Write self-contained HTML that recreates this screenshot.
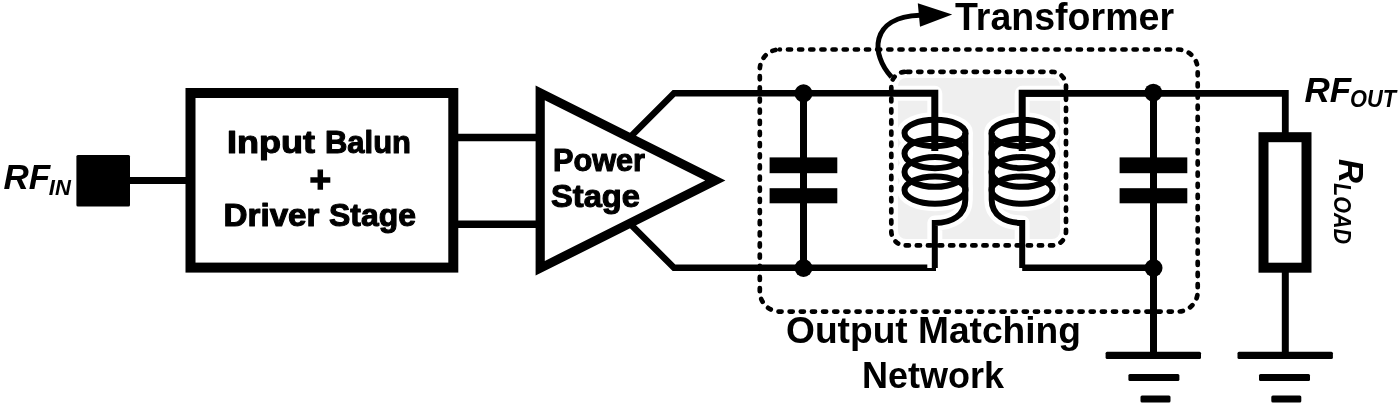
<!DOCTYPE html>
<html><head><meta charset="utf-8">
<style>
html,body{margin:0;padding:0;background:#fff;width:1400px;height:405px;overflow:hidden}
svg{display:block;will-change:transform}
#wrap{}
text{font-family:"Liberation Sans",sans-serif;font-weight:bold;fill:#000}
</style></head><body><div id="wrap">
<svg width="1400" height="405" viewBox="0 0 1400 405">
<!-- gray transformer background -->
<rect x="898" y="78" width="162" height="161" rx="8" fill="#efefef"/>

<!-- RF IN -->
<text x="3.5" y="188.6" font-size="35" font-style="italic">RF</text>
<text x="48.8" y="194.6" font-size="22" font-style="italic">IN</text>
<rect x="76.4" y="154.9" width="53.6" height="51.5" rx="1.5" fill="#000"/>
<line x1="128" y1="180.5" x2="192" y2="180.5" stroke="#000" stroke-width="6.9"/>

<!-- Input balun box -->
<rect x="190.5" y="93" width="262.8" height="174.6" fill="none" stroke="#000" stroke-width="10"/>
<text stroke="#000" stroke-width="1.1" stroke-linejoin="round" x="227" y="152.7" font-size="32" textLength="88" lengthAdjust="spacingAndGlyphs">Input</text>
<text stroke="#000" stroke-width="1.1" stroke-linejoin="round" x="325" y="152.7" font-size="32" textLength="86" lengthAdjust="spacingAndGlyphs">Balun</text>
<text x="309.5" y="191.5" font-size="37" stroke="#000" stroke-width="1.4">+</text>
<text stroke="#000" stroke-width="1.1" stroke-linejoin="round" x="223.5" y="225.8" font-size="32" textLength="96" lengthAdjust="spacingAndGlyphs">Driver</text>
<text stroke="#000" stroke-width="1.1" stroke-linejoin="round" x="329" y="225.8" font-size="32" textLength="87" lengthAdjust="spacingAndGlyphs">Stage</text>

<!-- wires to PA -->
<line x1="455" y1="137.5" x2="540" y2="137.5" stroke="#000" stroke-width="7.5"/>
<line x1="455" y1="224.3" x2="540" y2="224.3" stroke="#000" stroke-width="7.5"/>

<!-- PA triangle -->
<path d="M535.6 85.5 L725.4 180.55 L535.6 275.6 Z M544.8 100.2 L544.8 260.9 L705.2 180.55 Z" fill="#000" fill-rule="evenodd"/>
<text stroke="#000" stroke-width="1.1" stroke-linejoin="round" x="553" y="170.6" font-size="31.5" textLength="92" lengthAdjust="spacingAndGlyphs">Power</text>
<text stroke="#000" stroke-width="1.1" stroke-linejoin="round" x="551" y="207" font-size="31.5" textLength="89" lengthAdjust="spacingAndGlyphs">Stage</text>

<!-- outputs from PA -->
<polyline points="628,139.3 674,93.3 936,93.3" fill="none" stroke="#000" stroke-width="6.5"/>
<polyline points="628,221.8 674,267.8 936,267.8" fill="none" stroke="#000" stroke-width="6.5"/>

<!-- left capacitor -->
<line x1="803.5" y1="93" x2="803.5" y2="268" stroke="#000" stroke-width="7"/>
<rect x="769.6" y="157.4" width="67.7" height="15.8" fill="#000"/>
<rect x="769.6" y="188.2" width="67.7" height="15.1" fill="#000"/>
<circle cx="803.5" cy="93.3" r="9"/>
<circle cx="803.5" cy="268" r="9"/>

<!-- coils -->
<g id="coilL">
<g fill="#fff" stroke="#fff" stroke-width="15" stroke-linejoin="round"><path d="M890 93.3 L934.8 93.3 L934.8 151" fill="none"/><ellipse cx="935" cy="133" rx="30.5" ry="13.2"/><ellipse cx="935" cy="153.45" rx="30.5" ry="14.76"/><ellipse cx="935" cy="171.9" rx="30.5" ry="14.9"/><ellipse cx="935" cy="190.1" rx="30.5" ry="13.65"/><path d="M965.3 133 L965.3 200 C965.3 215 952 223 934.8 223 L934.8 268" fill="none"/></g>
<g fill="none" stroke="#000" stroke-width="6.0"><path d="M890 93.3 L934.8 93.3 L934.8 151" stroke-width="7"/><ellipse cx="935" cy="133" rx="30.5" ry="13.2"/><ellipse cx="935" cy="153.45" rx="30.5" ry="14.76"/><ellipse cx="935" cy="171.9" rx="30.5" ry="14.9"/><ellipse cx="935" cy="190.1" rx="30.5" ry="13.65"/><path d="M965.3 133 L965.3 200 C965.3 215 952 223 934.8 223 L934.8 268"/></g>
</g>
<g transform="translate(1957 0) scale(-1 1)">
<g fill="#fff" stroke="#fff" stroke-width="15" stroke-linejoin="round"><path d="M890 93.3 L934.8 93.3 L934.8 151" fill="none"/><ellipse cx="935" cy="133" rx="30.5" ry="13.2"/><ellipse cx="935" cy="153.45" rx="30.5" ry="14.76"/><ellipse cx="935" cy="171.9" rx="30.5" ry="14.9"/><ellipse cx="935" cy="190.1" rx="30.5" ry="13.65"/><path d="M965.3 133 L965.3 200 C965.3 215 952 223 934.8 223 L934.8 268" fill="none"/></g>
<g fill="none" stroke="#000" stroke-width="6.0"><path d="M890 93.3 L934.8 93.3 L934.8 151" stroke-width="7"/><ellipse cx="935" cy="133" rx="30.5" ry="13.2"/><ellipse cx="935" cy="153.45" rx="30.5" ry="14.76"/><ellipse cx="935" cy="171.9" rx="30.5" ry="14.9"/><ellipse cx="935" cy="190.1" rx="30.5" ry="13.65"/><path d="M965.3 133 L965.3 200 C965.3 215 952 223 934.8 223 L934.8 268"/></g>
</g>

<!-- right side wires -->
<polyline points="1022.2,93.3 1285.3,93.3 1285.3,137" fill="none" stroke="#000" stroke-width="6.8"/>
<line x1="1022.2" y1="267.8" x2="1153.5" y2="267.8" stroke="#000" stroke-width="6.5"/>
<line x1="1153.5" y1="93" x2="1153.5" y2="355" stroke="#000" stroke-width="7"/>
<rect x="1119.6" y="157.4" width="67.7" height="15.8" fill="#000"/>
<rect x="1119.6" y="188.2" width="67.7" height="15.1" fill="#000"/>
<circle cx="1153.3" cy="92.7" r="9"/>
<circle cx="1153.5" cy="268" r="9"/>

<!-- resistor -->
<rect x="1263.5" y="137.2" width="43" height="130.5" fill="none" stroke="#000" stroke-width="10"/>
<line x1="1285.3" y1="270" x2="1285.3" y2="355" stroke="#000" stroke-width="7"/>

<!-- grounds -->
<rect x="1105.6" y="351.8" width="95.4" height="7.3" rx="1.5"/>
<rect x="1128.4" y="373.9" width="51" height="7.2" rx="1.5"/>
<rect x="1140.5" y="395.4" width="30" height="7" rx="1.5"/>
<rect x="1237.5" y="351.8" width="95.4" height="7.3" rx="1.5"/>
<rect x="1259" y="373.9" width="51" height="7.2" rx="1.5"/>
<rect x="1271.3" y="395.4" width="30" height="7" rx="1.5"/>

<!-- dashed boxes -->
<rect x="759.8" y="49.5" width="437.9" height="262.1" rx="20" fill="none" stroke="#000" stroke-width="4.7" stroke-linecap="round" stroke-dasharray="3.1 8.05" stroke-dashoffset="3"/>
<rect x="891.3" y="71.8" width="174.7" height="173.6" rx="14" fill="none" stroke="#000" stroke-width="4.7" stroke-linecap="round" stroke-dasharray="3.2 7.9" stroke-dashoffset="-1.8"/>

<!-- arrow -->
<path d="M891.5 77 C871 55 869 17 920 15.2" fill="none" stroke="#000" stroke-width="5"/>
<path d="M917.8 3.3 L952.2 14.4 L920 26.7 Z" fill="#000"/>
<text x="955" y="30" font-size="39" textLength="219" lengthAdjust="spacingAndGlyphs">Transformer</text>

<text x="786" y="342.8" font-size="37" textLength="295" lengthAdjust="spacingAndGlyphs">Output Matching</text>
<text x="862" y="388" font-size="37" textLength="142" lengthAdjust="spacingAndGlyphs">Network</text>

<!-- RF OUT -->
<text x="1304.5" y="102.4" font-size="35" font-style="italic">RF</text>
<text x="1350" y="107" font-size="23" font-style="italic" textLength="46" lengthAdjust="spacingAndGlyphs">OUT</text>

<!-- R LOAD -->
<g transform="translate(1338.5 159) rotate(90)">
<text x="0" y="0" font-size="35" font-style="italic" textLength="24" lengthAdjust="spacingAndGlyphs">R</text>
<text x="24" y="4.5" font-size="23" font-style="italic" textLength="61" lengthAdjust="spacingAndGlyphs">LOAD</text>
</g>
</svg></div>
</body></html>
